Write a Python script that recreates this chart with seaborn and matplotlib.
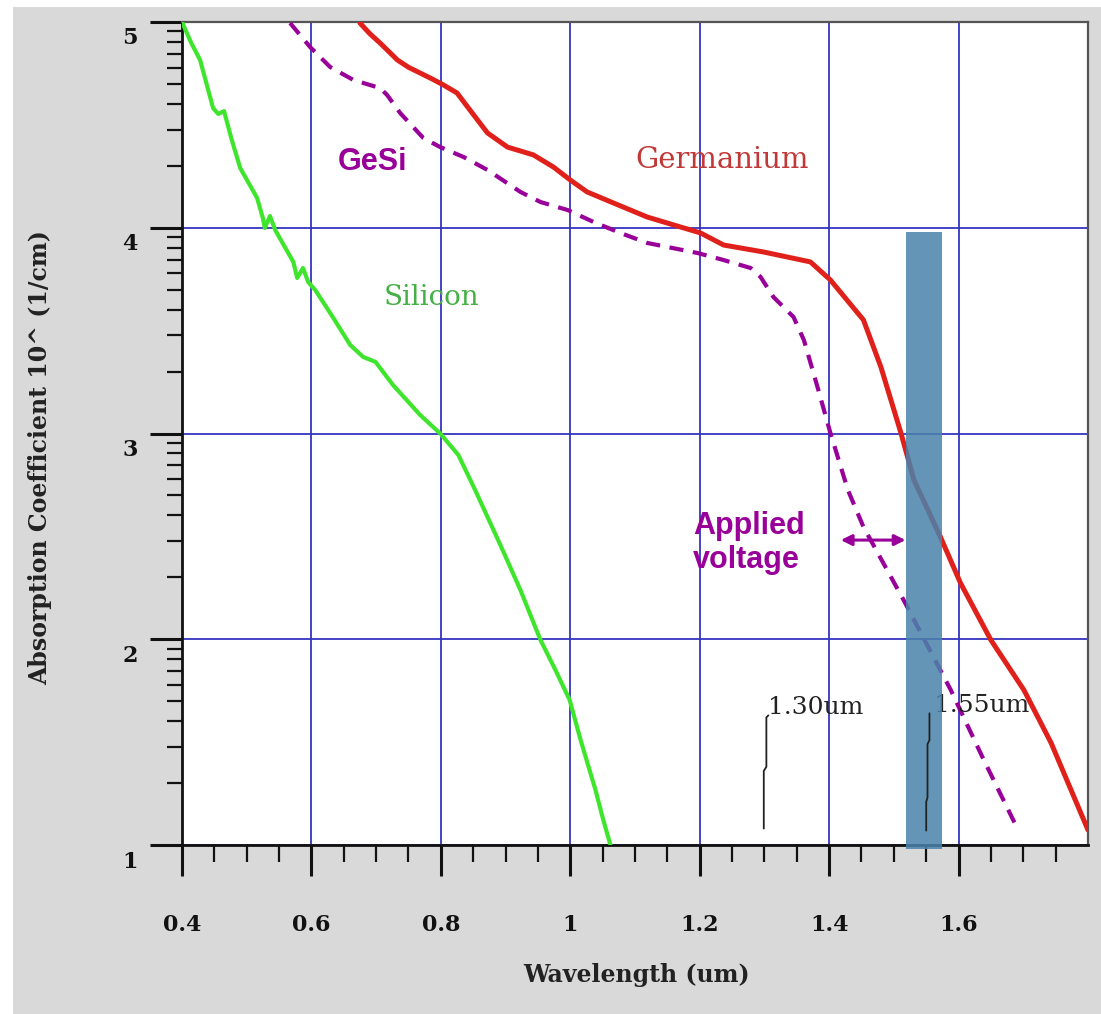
import numpy as np
import pandas as pd
import matplotlib
matplotlib.use("Agg")
import matplotlib.pyplot as plt
import seaborn as sns
from matplotlib.patches import Rectangle
from matplotlib.ticker import FixedLocator, FixedFormatter
from matplotlib.transforms import ScaledTranslation

# ---------------- data ----------------
si_wl = [0.400, 0.414, 0.428, 0.448, 0.456, 0.465, 0.477, 0.490, 0.516, 0.525, 0.528, 0.536,
         0.544, 0.572, 0.578, 0.587, 0.595, 0.606, 0.634, 0.660, 0.680, 0.699, 0.726,
         0.768, 0.799, 0.827, 0.853, 0.892, 0.923, 0.954, 0.977, 0.999, 1.016, 1.039,
         1.051, 1.062]
si_abs = [5.000, 4.900, 4.815, 4.582, 4.553, 4.567, 4.426, 4.290, 4.145, 4.047, 3.999, 4.057,
          3.989, 3.834, 3.756, 3.804, 3.736, 3.697, 3.561, 3.430, 3.372, 3.348, 3.236,
          3.090, 3.000, 2.896, 2.725, 2.458, 2.239, 1.996, 1.851, 1.705, 1.510, 1.267,
          1.122, 1.000]

ge_wl = [0.675, 0.690, 0.706, 0.720, 0.733, 0.750, 0.768, 0.786, 0.804, 0.825, 0.845,
         0.872, 0.903, 0.943, 0.974, 1.000, 1.026, 1.067, 1.119, 1.170, 1.201, 1.237,
         1.299, 1.371, 1.402, 1.453, 1.480, 1.511, 1.531, 1.572, 1.603, 1.650, 1.701,
         1.743, 1.800]
ge_abs = [4.995, 4.944, 4.898, 4.855, 4.815, 4.780, 4.752, 4.724, 4.694, 4.655, 4.572,
          4.461, 4.392, 4.354, 4.295, 4.232, 4.174, 4.120, 4.052, 4.004, 3.975, 3.916,
          3.882, 3.834, 3.746, 3.552, 3.323, 3.002, 2.774, 2.497, 2.273, 1.996, 1.753,
          1.496, 1.073]

gesi_wl = [0.567, 0.598, 0.629, 0.665, 0.706, 0.717, 0.737, 0.773, 0.799, 0.835, 0.872,
           0.923, 0.954, 0.996, 1.036, 1.077, 1.119, 1.197, 1.237, 1.279, 1.294, 1.314,
           1.345, 1.361, 1.382, 1.402, 1.429, 1.453, 1.515, 1.588, 1.639, 1.692]
gesi_abs = [4.995, 4.878, 4.781, 4.718, 4.679, 4.645, 4.558, 4.436, 4.392, 4.344, 4.281,
            4.174, 4.125, 4.086, 4.028, 3.975, 3.926, 3.877, 3.843, 3.804, 3.761, 3.663,
            3.566, 3.454, 3.226, 3.002, 2.725, 2.546, 2.191, 1.753, 1.413, 1.073]

mark130_wl = [1.299, 1.299, 1.303, 1.303, 1.306]
mark130_abs = [1.08, 1.36, 1.38, 1.62, 1.63]
mark155_wl = [1.550, 1.550, 1.552, 1.552, 1.555, 1.555]
mark155_abs = [1.07, 1.21, 1.23, 1.49, 1.51, 1.64]

band_lo, band_hi = 1.518, 1.574
band_bottom, band_top = 0.98, 3.98

arrow_wl = [1.418, 1.518]
arrow_abs = 2.482

x_ticks = [0.4, 0.6, 0.8, 1.0, 1.2, 1.4, 1.6]
x_tick_labels = ["0.4", "0.6", "0.8", "1", "1.2", "1.4", "1.6"]
x_minor = [0.45, 0.5, 0.55, 0.65, 0.7, 0.75, 0.85, 0.9, 0.95, 1.05, 1.1, 1.15, 1.25,
           1.3, 1.35, 1.45, 1.5, 1.55, 1.65, 1.7, 1.75]
y_ticks = [1, 2, 3, 4, 5]
y_tick_labels = ["1", "2", "3", "4", "5"]
y_minor_decades = [1, 2, 3, 4]
y_minor_mult = [2, 3, 4, 5, 6, 7, 8, 9]

# ---------------- style ----------------
sns.set_style("white")
plt.rcParams["font.family"] = ["DejaVu Serif"]

PURPLE = "#990099"

fig = plt.figure(figsize=(11.01, 10.14), dpi=100, facecolor="white")
fig.patches.append(Rectangle((13 / 1101, 0), 1 - 13 / 1101, 1 - 7 / 1014,
                             transform=fig.transFigure, facecolor="#d9d9d9",
                             edgecolor="none", zorder=-10))
ax = fig.add_axes([182 / 1101, 1 - 845 / 1014, 906 / 1101, 823 / 1014])
ax.set_facecolor("white")

df_si = pd.DataFrame({"wl": si_wl, "abs": si_abs})
df_ge = pd.DataFrame({"wl": ge_wl, "abs": ge_abs})
df_gesi = pd.DataFrame({"wl": gesi_wl, "abs": gesi_abs})
df_m130 = pd.DataFrame({"wl": mark130_wl, "abs": mark130_abs})
df_m155 = pd.DataFrame({"wl": mark155_wl, "abs": mark155_abs})

sns.lineplot(data=df_si, x="wl", y="abs", sort=False, estimator=None,
             color="#3fe52d", lw=3.0, ax=ax, zorder=3)
sns.lineplot(data=df_ge, x="wl", y="abs", sort=False, estimator=None,
             color="#e0201a", lw=3.6, ax=ax, zorder=3)
sns.lineplot(data=df_gesi, x="wl", y="abs", sort=False, estimator=None,
             color=PURPLE, lw=3.0, linestyle=(0, (3.4, 2.3)), ax=ax, zorder=3)
sns.lineplot(data=df_m130, x="wl", y="abs", sort=False, estimator=None,
             color="#222222", lw=1.3, ax=ax, zorder=6)
sns.lineplot(data=df_m155, x="wl", y="abs", sort=False, estimator=None,
             color="#222222", lw=1.3, ax=ax, zorder=6)

# shaded 1.55 um band
ax.bar(x=(band_lo + band_hi) / 2, height=band_top - band_bottom, bottom=band_bottom,
       width=band_hi - band_lo, color="#4a82aa", alpha=0.86, zorder=5,
       clip_on=False, linewidth=0)

# applied-voltage arrow
ax.annotate("", xy=(arrow_wl[0], arrow_abs), xytext=(arrow_wl[1], arrow_abs),
            arrowprops=dict(arrowstyle="<|-|>", color=PURPLE, lw=2.2,
                            mutation_scale=16, shrinkA=0, shrinkB=0), zorder=6)

# texts
ax.text(0.695, 4.32, "GeSi", fontsize=22, fontweight="bold", color=PURPLE,
        family=["Liberation Sans"], ha="center", va="center", zorder=6)
ax.text(1.190, 2.468, "Applied\nvoltage", fontsize=22, fontweight="bold", color=PURPLE,
        family=["Liberation Sans"], ha="left", va="center", zorder=6)
ax.text(1.234, 4.33, "Germanium", fontsize=21, color="#c03838",
        ha="center", va="center", zorder=4)
ax.text(0.785, 3.663, "Silicon", fontsize=20, color="#45b045",
        ha="center", va="center", zorder=4)
ax.text(1.306, 1.666, "1.30um", fontsize=18, color="#222222",
        ha="left", va="center", zorder=4)
ax.text(1.562, 1.68, "1.55um", fontsize=18, color="#222222",
        ha="left", va="center", zorder=4)

# axes
ax.set_xlim(0.4, 1.8)
ax.set_ylim(1, 5)
ax.xaxis.set_major_locator(FixedLocator(x_ticks))
ax.xaxis.set_major_formatter(FixedFormatter(x_tick_labels))
ax.xaxis.set_minor_locator(FixedLocator(x_minor))
ax.yaxis.set_major_locator(FixedLocator(y_ticks))
ax.yaxis.set_major_formatter(FixedFormatter(y_tick_labels))
ax.yaxis.set_minor_locator(FixedLocator(
    [d + np.log10(k) for d in y_minor_decades for k in y_minor_mult]))

ax.tick_params(axis="x", which="major", direction="out", length=22, width=2.2,
               pad=28, labelsize=16, colors="#111111", bottom=True)
ax.tick_params(axis="x", which="minor", direction="out", length=12, width=1.6,
               colors="#111111", bottom=True)
ax.tick_params(axis="y", which="major", direction="out", length=23, width=2.2,
               pad=9, labelsize=16, colors="#111111", left=True)
ax.tick_params(axis="y", which="minor", direction="out", length=11, width=1.6,
               colors="#111111", left=True)
for lab in ax.get_xticklabels() + ax.get_yticklabels():
    lab.set_fontweight("bold")
for lab in ax.get_yticklabels():
    lab.set_transform(lab.get_transform() + ScaledTranslation(0, -14 / 100, fig.dpi_scale_trans))

ax.grid(which="major", color="#3535c0", lw=1.3)
ax.set_axisbelow(True)

for side in ["left", "bottom"]:
    ax.spines[side].set_color("#111111")
    ax.spines[side].set_linewidth(2.0)
for side in ["top", "right"]:
    ax.spines[side].set_color("#555555")
    ax.spines[side].set_linewidth(1.6)

ax.set_xlabel("Wavelength (um)", fontsize=17, fontweight="bold", color="#222222")
ax.set_ylabel("Absorption Coefficient 10^ (1/cm)", fontsize=17, fontweight="bold",
              color="#222222")
ax.xaxis.set_label_coords(0.502, -0.143)
ax.yaxis.set_label_coords(-0.1435, 0.471)

fig.savefig("out.png", dpi=100, facecolor=fig.get_facecolor())
